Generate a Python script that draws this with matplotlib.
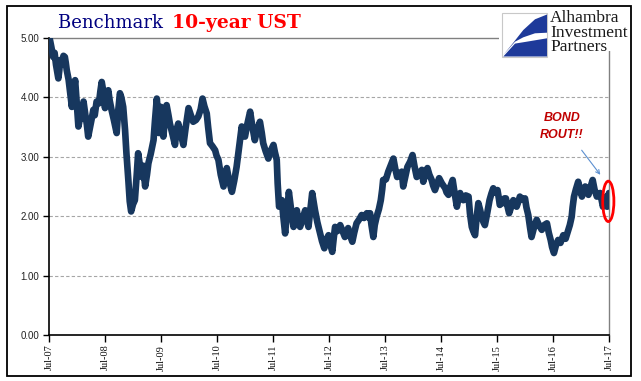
import matplotlib
matplotlib.use("Agg")
import matplotlib.pyplot as plt
from matplotlib.patches import Rectangle, Polygon, Ellipse, FancyArrowPatch

# ---- data: months since Jul-2007 and 10-year UST yield (%) ----
months = [0.0, 0.2, 0.5, 0.9, 1.2, 1.5, 2.0, 2.2, 2.4, 2.8, 3.1, 3.4, 3.6, 3.8, 4.2, 4.5,
          4.9, 5.2, 5.6, 5.9, 6.3, 6.8, 7.1, 7.4, 7.8, 8.1, 8.4, 8.8, 9.1, 9.5, 9.8, 10.2,
          10.7, 11.0, 11.3, 11.6, 12.0, 12.3, 12.7, 13.0, 13.4, 13.9, 14.5, 14.8, 15.2,
          15.5, 15.9, 16.1, 16.3, 16.6, 17.0, 17.3, 17.6, 18.0, 18.4, 18.8, 19.1, 19.5,
          19.9, 20.2, 20.6, 21.0, 21.3, 21.8, 22.4, 22.7, 23.1, 23.4, 23.6, 24.0, 24.5,
          24.8, 25.2, 25.6, 25.9, 26.4, 27.0, 27.3, 27.7, 28.2, 28.8, 29.3, 29.9, 30.4,
          30.9, 31.5, 32.0, 32.5, 32.9, 33.3, 33.8, 34.1, 34.5, 35.0, 35.6, 35.9, 36.3,
          36.8, 37.4, 37.7, 38.1, 38.6, 39.2, 39.7, 40.2, 40.8, 41.3, 41.6, 42.0, 42.5,
          43.1, 43.6, 44.1, 44.6, 45.2, 45.6, 45.9, 46.4, 47.0, 47.5, 48.1, 48.4, 48.8,
          49.0, 49.3, 49.6, 49.9, 50.2, 50.6, 51.0, 51.4, 51.9, 52.4, 52.7, 53.1, 53.4,
          53.8, 54.3, 54.9, 55.2, 55.6, 56.0, 56.4, 56.7, 57.0, 57.5, 58.1, 58.5, 59.0,
          59.4, 59.9, 60.3, 60.7, 61.0, 61.3, 61.8, 62.4, 62.9, 63.4, 63.8, 64.1, 64.5,
          65.0, 65.4, 65.9, 66.5, 67.0, 67.5, 68.1, 68.4, 68.8, 69.1, 69.5, 69.8, 70.2,
          70.7, 71.1, 71.4, 71.6, 72.2, 72.7, 73.2, 73.8, 74.2, 74.6, 75.1, 75.6, 75.9,
          76.3, 76.8, 77.4, 77.9, 78.3, 78.8, 79.3, 79.9, 80.2, 80.6, 81.1, 81.5, 82.0,
          82.3, 82.7, 83.2, 83.6, 84.2, 84.9, 85.2, 85.6, 86.0, 86.5, 86.9, 87.4, 87.7,
          88.1, 88.4, 88.8, 89.3, 89.9, 90.2, 90.6, 90.9, 91.3, 91.6, 92.0, 92.4, 92.7,
          93.1, 93.4, 93.9, 94.4, 94.8, 95.2, 95.6, 96.1, 96.4, 96.6, 97.0, 97.4, 97.6,
          97.9, 98.3, 98.6, 99.0, 99.5, 99.8, 100.2, 100.6, 100.9, 101.5, 102.0, 102.3,
          102.7, 103.1, 103.4, 103.9, 104.5, 105.0, 105.6, 106.1, 106.7, 107.1, 107.5,
          107.8, 108.2, 108.6, 109.1, 109.6, 110.2, 110.7, 111.3, 111.6, 112.0, 112.2,
          112.5, 112.9, 113.4, 113.8, 114.2, 114.5, 114.9, 115.2, 115.6, 116.0, 116.5,
          116.9, 117.4, 117.7, 118.1, 118.4, 118.7, 119.0, 119.4, 119.6, 120.0]
yields = [5.02, 4.97, 4.85, 4.68, 4.75, 4.55, 4.32, 4.45, 4.63, 4.55, 4.70, 4.68, 4.58, 4.46,
          4.30, 4.10, 3.84, 4.05, 4.29, 3.95, 3.51, 3.72, 3.65, 3.93, 3.70, 3.55, 3.34, 3.50,
          3.62, 3.79, 3.70, 3.93, 3.90, 4.10, 4.26, 4.12, 3.82, 4.02, 4.12, 3.95, 3.79, 3.62,
          3.40, 3.75, 4.07, 4.00, 3.84, 3.65, 3.45, 3.05, 2.61, 2.25, 2.08, 2.20, 2.27, 2.70,
          3.06, 2.85, 2.66, 2.85, 2.50, 2.70, 2.89, 3.05, 3.28, 3.60, 3.98, 3.70, 3.40, 3.84,
          3.34, 3.60, 3.87, 3.70, 3.56, 3.40, 3.20, 3.45, 3.56, 3.40, 3.20, 3.50, 3.82, 3.70,
          3.59, 3.62, 3.68, 3.80, 3.98, 3.85, 3.73, 3.50, 3.23, 3.18, 3.11, 3.02, 2.95, 2.70,
          2.50, 2.65, 2.81, 2.60, 2.41, 2.60, 2.83, 3.20, 3.51, 3.40, 3.34, 3.55, 3.76, 3.50,
          3.28, 3.45, 3.59, 3.40, 3.23, 3.10, 2.97, 3.10, 3.20, 3.08, 2.95, 2.55, 2.16, 2.20,
          2.27, 2.00, 1.71, 2.05, 2.41, 2.10, 1.82, 1.95, 2.10, 1.95, 1.82, 1.95, 2.10, 1.95,
          1.82, 2.10, 2.39, 2.25, 2.10, 1.90, 1.71, 1.58, 1.46, 1.60, 1.68, 1.52, 1.40, 1.62,
          1.82, 1.75, 1.85, 1.75, 1.65, 1.72, 1.80, 1.68, 1.57, 1.72, 1.88, 1.95, 2.02, 1.97,
          2.05, 1.98, 2.05, 1.85, 1.65, 1.85, 1.99, 2.12, 2.27, 2.45, 2.61, 2.62, 2.75, 2.85,
          2.97, 2.80, 2.66, 2.72, 2.75, 2.50, 2.65, 2.83, 2.92, 3.03, 2.85, 2.66, 2.72, 2.78,
          2.58, 2.70, 2.81, 2.70, 2.61, 2.52, 2.44, 2.55, 2.64, 2.55, 2.47, 2.40, 2.36, 2.50,
          2.61, 2.40, 2.16, 2.28, 2.39, 2.30, 2.27, 2.35, 2.33, 2.05, 1.82, 1.75, 1.68, 1.95,
          2.22, 2.10, 1.99, 1.90, 1.85, 2.05, 2.27, 2.38, 2.47, 2.40, 2.44, 2.30, 2.19, 2.25,
          2.22, 2.30, 2.30, 2.15, 2.05, 2.15, 2.27, 2.20, 2.16, 2.25, 2.33, 2.28, 2.30, 2.15,
          2.02, 1.80, 1.65, 1.80, 1.94, 1.85, 1.77, 1.85, 1.88, 1.72, 1.60, 1.48, 1.38, 1.50,
          1.60, 1.55, 1.68, 1.62, 1.77, 1.85, 1.99, 2.15, 2.33, 2.45, 2.58, 2.45, 2.33, 2.42,
          2.50, 2.42, 2.36, 2.48, 2.61, 2.45, 2.33, 2.38, 2.39, 2.28, 2.16, 2.25, 2.33, 2.16,
          2.39]
tick_months = [0, 12, 24, 36, 48, 60, 72, 84, 96, 108, 120]
tick_labels = ["Jul-07", "Jul-08", "Jul-09", "Jul-10", "Jul-11", "Jul-12",
               "Jul-13", "Jul-14", "Jul-15", "Jul-16", "Jul-17"]
y_ticks = [0, 1, 2, 3, 4, 5]

W, H = 641, 381
fig = plt.figure(figsize=(W / 100, H / 100), dpi=100)


def fx(x):
    return x / W


def fy(y):
    return 1 - y / H


ax = fig.add_axes([fx(49), fy(335), fx(609) - fx(49), fy(38) - fy(335)])
ax.plot(months, yields, color="#17375E", lw=4.8, solid_joinstyle="round",
        solid_capstyle="round", zorder=3)
ax.set_xlim(0, 120)
ax.set_ylim(0, 5)

ax.set_yticks(y_ticks)
ax.set_yticklabels([f"{v:.2f}" for v in y_ticks], family="Liberation Sans", fontsize=7,
                   color="#222222")
ax.set_xticks(tick_months)
ax.set_xticklabels(tick_labels, rotation=90, family="Liberation Serif", fontsize=7.5,
                   color="#111111")
ax.tick_params(axis="x", direction="out", length=5, width=1, color="black", pad=2)
ax.tick_params(axis="y", direction="out", length=4, width=1, color="black", pad=3)

for v in y_ticks[1:-1]:
    ax.axhline(v, color="#a6a6a6", lw=0.8, ls=(0, (3, 2)), zorder=1)

ax.spines["left"].set_color("black")
ax.spines["left"].set_linewidth(1.2)
ax.spines["bottom"].set_color("black")
ax.spines["bottom"].set_linewidth(1.2)
ax.spines["top"].set_color("#808080")
ax.spines["top"].set_linewidth(1.0)
ax.spines["right"].set_color("#808080")
ax.spines["right"].set_linewidth(1.0)

# red ellipse around the end of the series
ell = Ellipse((months[-1] - 0.15, 2.25), 2.4, 0.68, fill=False, edgecolor="#ff0000",
              lw=2.0, zorder=5, clip_on=False)
ax.add_patch(ell)

# annotation
fig.text(fx(562), fy(118), "BOND", ha="center", va="center", fontsize=9,
         family="Liberation Sans", style="italic", weight="bold", color="#C00000")
fig.text(fx(562), fy(135), "ROUT!!", ha="center", va="center", fontsize=9,
         family="Liberation Sans", style="italic", weight="bold", color="#C00000")
fig.add_artist(FancyArrowPatch(
    (fx(580), fy(148)), (fx(602), fy(177)), transform=fig.transFigure,
    arrowstyle="->", mutation_scale=7, color="#5B8FD0", lw=0.8))

# title
fig.text(fx(58), fy(28), "Benchmark ", family="DejaVu Serif", fontsize=13,
         color="#000080", va="baseline", ha="left")
fig.text(fx(172), fy(28), "10-year UST", family="DejaVu Serif", fontsize=13.5,
         weight="bold", color="#FF0000", va="baseline", ha="left")

# logo area (white background covering corner of the plot frame)
fig.add_artist(Rectangle((fx(499), fy(51)), fx(630) - fx(499), fy(8) - fy(51),
                         transform=fig.transFigure, facecolor="white",
                         edgecolor="none", zorder=4))
fig.add_artist(Rectangle((fx(502), fy(57)), fx(547) - fx(502), fy(13) - fy(57),
                         transform=fig.transFigure, facecolor="white",
                         edgecolor="#c8c8c8", lw=0.8, zorder=5))
upper = [(503.3, 55), (513.3, 42.7), (523.3, 30), (535, 19.3), (547, 14.5), (547, 32.7),
         (535, 33.3), (523.3, 37.3), (515, 41.7)]
lower = [(503.3, 56.5), (515, 43.6), (526.7, 41.7), (547, 38.3), (547, 56.5)]
for poly in (upper, lower):
    fig.add_artist(Polygon([(fx(a), fy(b)) for a, b in poly], closed=True,
                           transform=fig.transFigure, facecolor="#1E3A9A",
                           edgecolor="none", zorder=6))
fig.text(fx(550), fy(51), "Alhambra\nInvestment\nPartners", family="Liberation Serif",
         fontsize=12.5, linespacing=0.86, color="#1a1a1a", va="baseline", ha="left",
         zorder=6)

# outer frame
fig.add_artist(Rectangle((fx(7), fy(376)), fx(631) - fx(7), fy(6) - fy(376),
                         transform=fig.transFigure, fill=False, edgecolor="black",
                         lw=1.3, zorder=10))

fig.savefig("out.png", dpi=100, facecolor="white")
